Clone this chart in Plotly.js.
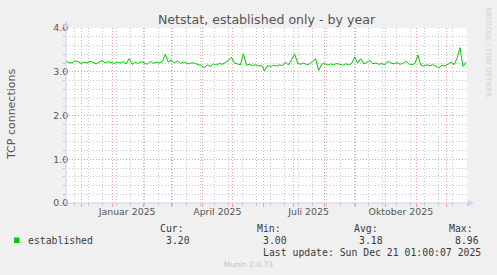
<!DOCTYPE html>
<html><head><meta charset="utf-8">
<script src="https://cdn.plot.ly/plotly-3.0.1.min.js"></script>
<style>html,body{margin:0;padding:0;background:#f0f0f0;} #chart{width:497px;height:275px;}</style>
</head><body><div id="chart"></div>
<script>
// ---- data ----
const startDate = '2024-11-16';
const stepDays = 3;
const established = [
3.24,3.21,3.20,3.25,3.23,3.19,3.22,3.20,3.24,3.21,
3.18,3.22,3.26,3.20,3.23,3.21,3.19,3.22,3.20,3.23,
3.18,3.30,3.17,3.22,3.19,3.23,3.20,3.17,3.24,3.19,
3.22,3.20,3.23,3.40,3.22,3.27,3.20,3.25,3.19,3.22,
3.20,3.18,3.21,3.19,3.17,3.14,3.09,3.16,3.12,3.18,
3.15,3.19,3.17,3.21,3.26,3.33,3.20,3.18,3.16,3.41,
3.15,3.17,3.14,3.16,3.13,3.15,3.02,3.14,3.12,3.15,
3.13,3.16,3.14,3.22,3.15,3.28,3.41,3.20,3.17,3.20,
3.16,3.18,3.24,3.30,3.03,3.17,3.19,3.15,3.18,3.16,
3.19,3.17,3.15,3.18,3.16,3.19,3.34,3.20,3.30,3.18,
3.23,3.26,3.18,3.20,3.17,3.19,3.16,3.24,3.20,3.18,
3.21,3.17,3.19,3.24,3.18,3.16,3.19,3.38,3.15,3.13,
3.16,3.14,3.16,3.12,3.09,3.15,3.13,3.17,3.22,3.16,
3.30,3.55,3.12,3.22
];
const xRange = ['2024-11-16', '2025-12-21'];
const yRange = [0, 4];
const monthGridStart = '2024-12-01';
const minorGridStart = '2024-11-24';
const xLabelDates = ['2025-01-16', '2025-04-16', '2025-07-16', '2025-10-16'];
const xLabelTexts = ['Januar 2025', 'April 2025', 'Juli 2025', 'Oktober 2025'];
const seriesName = 'established';
const statLabels = ['Cur:', 'Min:', 'Avg:', 'Max:'];
const statValues = ['3.20', '3.00', '3.18', '8.96'];
const lastUpdate = 'Last update: Sun Dec 21 01:00:07 2025';
const titleText = 'Netstat, established only - by year';
const yTitle = 'TCP connections';

// ---- build dates ----
const t0 = Date.parse(startDate + 'T00:00:00Z');
const dates = established.map((v, i) => new Date(t0 + i * stepDays * 86400000).toISOString().slice(0, 10));

// layout geometry helpers (plot area in px)
const L = 66, R = 467, T = 28, B = 203;
const px = x => (x - L) / (R - L);
const py = y => (B - y) / (B - T);

const MAJ = '#e9a0a0';
const MIN = '#c4c4c4';
const AX = '#c8d0f4';
const TXT = '#555555';
const LEG = '#3a3a3a';
const sans = 'DejaVu Sans, sans-serif';
const mono = 'DejaVu Sans Mono, monospace';

const trace = {
  x: dates, y: established, type: 'scatter', mode: 'lines', name: seriesName,
  line: {color: '#00cc00', width: 1}, showlegend: false, hoverinfo: 'skip'
};
const labelTrace = {x: [xLabelDates[0]], y: [null], xaxis: 'x2', yaxis: 'y', type: 'scatter', showlegend: false};

const statX = [158, 255, 352, 447];
const valX = [164, 261, 357, 453];
const ann = [];
statLabels.forEach((s, i) => ann.push({xref: 'paper', yref: 'paper', x: px(statX[i]), y: py(228), xanchor: 'left', yanchor: 'middle', text: s, showarrow: false, font: {family: mono, size: 9.8, color: LEG}}));
statValues.forEach((s, i) => ann.push({xref: 'paper', yref: 'paper', x: px(valX[i]), y: py(240), xanchor: 'left', yanchor: 'middle', text: s, showarrow: false, font: {family: mono, size: 9.8, color: LEG}}));
ann.push({xref: 'paper', yref: 'paper', x: px(26), y: py(240), xanchor: 'left', yanchor: 'middle', text: seriesName, showarrow: false, font: {family: mono, size: 9.8, color: LEG}});
ann.push({xref: 'paper', yref: 'paper', x: px(483), y: py(252), xanchor: 'right', yanchor: 'middle', text: lastUpdate, showarrow: false, font: {family: mono, size: 9.8, color: LEG}});
ann.push({xref: 'paper', yref: 'paper', x: px(248), y: py(264), xanchor: 'center', yanchor: 'middle', text: 'Munin 2.0.73', showarrow: false, font: {family: sans, size: 7.5, color: '#c4c4c4'}});
ann.push({xref: 'paper', yref: 'paper', x: px(488), y: py(52), xanchor: 'center', yanchor: 'middle', text: 'RRDTOOL / TOBI OETIKER', textangle: 90, showarrow: false, font: {family: sans, size: 7, color: '#cfcfcf'}});
ann.push({xref: 'paper', yref: 'paper', x: px(11), y: py(115), xanchor: 'center', yanchor: 'middle', text: yTitle, textangle: -90, showarrow: false, font: {family: sans, size: 11, color: TXT}});

const shapes = [
  {type: 'rect', xref: 'paper', yref: 'paper', x0: px(14), x1: px(19.5), y0: py(237.5), y1: py(243), fillcolor: '#00cc00', line: {width: 0}},
  {type: 'path', xref: 'paper', yref: 'paper', path: `M ${px(66)} ${py(21)} L ${px(63)} ${py(27)} L ${px(69)} ${py(27)} Z`, fillcolor: AX, line: {width: 0}},
  {type: 'line', xref: 'paper', yref: 'paper', x0: px(66), x1: px(66), y0: py(203), y1: py(27), line: {color: AX, width: 1}},
  {type: 'path', xref: 'paper', yref: 'paper', path: `M ${px(474)} ${py(203)} L ${px(468)} ${py(200)} L ${px(468)} ${py(206)} Z`, fillcolor: AX, line: {width: 0}},
  {type: 'line', xref: 'paper', yref: 'paper', x0: px(66), x1: px(469), y0: py(203), y1: py(203), line: {color: AX, width: 1}}
];

const layout = {
  width: 497, height: 275,
  margin: {l: L, r: 497 - R, t: T, b: 275 - B, pad: 0},
  paper_bgcolor: '#f0f0f0', plot_bgcolor: '#ffffff',
  title: {text: titleText, font: {family: sans, size: 12.6, color: TXT}, x: 0.5, xref: 'paper', xanchor: 'center', y: 1 - 19.5 / 275, yanchor: 'middle'},
  xaxis: {
    type: 'date', range: xRange, tickmode: 'linear', tick0: monthGridStart, dtick: 'M1',
    showticklabels: false, showgrid: true, gridcolor: MAJ, griddash: '1px,2px', gridwidth: 1,
    ticks: 'outside', ticklen: 3, tickcolor: MAJ, showline: false, zeroline: false,
    minor: {tick0: minorGridStart, dtick: 14 * 86400000, showgrid: true, gridcolor: MIN, griddash: '1px,2px', gridwidth: 1, ticks: 'outside', ticklen: 2, tickcolor: MIN},
    fixedrange: true
  },
  xaxis2: {
    type: 'date', range: xRange, overlaying: 'x', anchor: 'y', side: 'bottom',
    tickmode: 'array', tickvals: xLabelDates, ticktext: xLabelTexts,
    showgrid: false, zeroline: false, showline: false, ticks: '',
    ticklabelstandoff: 2,
    tickfont: {family: sans, size: 9.4, color: TXT}, fixedrange: true
  },
  yaxis: {
    range: yRange, tickmode: 'linear', tick0: 0, dtick: 1, tickformat: '.1f',
    showgrid: true, gridcolor: MAJ, griddash: '1px,2px', gridwidth: 1,
    minor: {tick0: 0, dtick: 0.2, showgrid: true, gridcolor: MIN, griddash: '1px,2px', gridwidth: 1, ticks: 'outside', ticklen: 2, tickcolor: MIN},
    ticks: 'outside', ticklen: 3, tickcolor: MAJ,
    showline: false, zeroline: false,
    ticklabelstandoff: -8,
    tickfont: {family: sans, size: 9.4, color: TXT},
    fixedrange: true
  },
  annotations: ann,
  shapes: shapes
};

Plotly.newPlot('chart', [trace, labelTrace], layout, {staticPlot: true, displayModeBar: false});
</script>
</body></html>
